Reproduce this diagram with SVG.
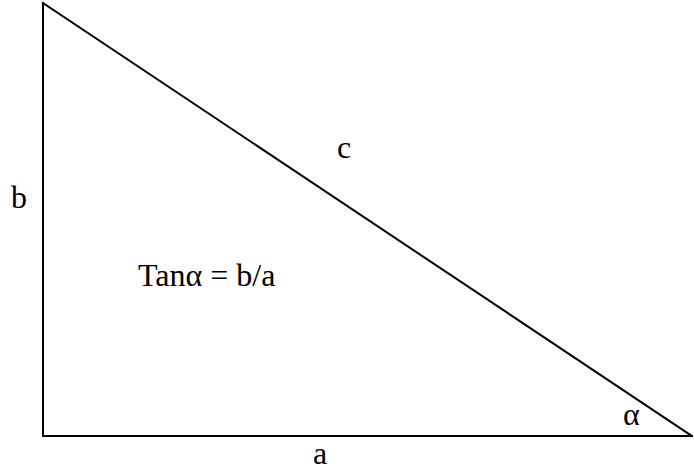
<svg xmlns="http://www.w3.org/2000/svg" width="694" height="472" viewBox="0 0 694 472">
<style>
.l{stroke:#000;stroke-width:2;fill:none;stroke-linecap:square}
.t{font-family:'Liberation Serif','Times New Roman',serif;font-size:32px;fill:#000}
</style>
<rect width="694" height="472" fill="#fff"/>
<g id="connectors">
<line class="l" x1="43" y1="3" x2="43" y2="436"/>
<line class="l" x1="43" y1="436" x2="692" y2="436"/>
<line class="l" x1="43" y1="3" x2="692" y2="436"/>
</g>
<g id="labels">
<text class="t" x="11" y="208">b</text>
<text class="t" x="337" y="158">c</text>
<text class="t" x="138" y="286">Tanα = b/a</text>
<text class="t" x="313" y="464">a</text>
<text class="t" x="623" y="425">α</text>
</g>
</svg>
